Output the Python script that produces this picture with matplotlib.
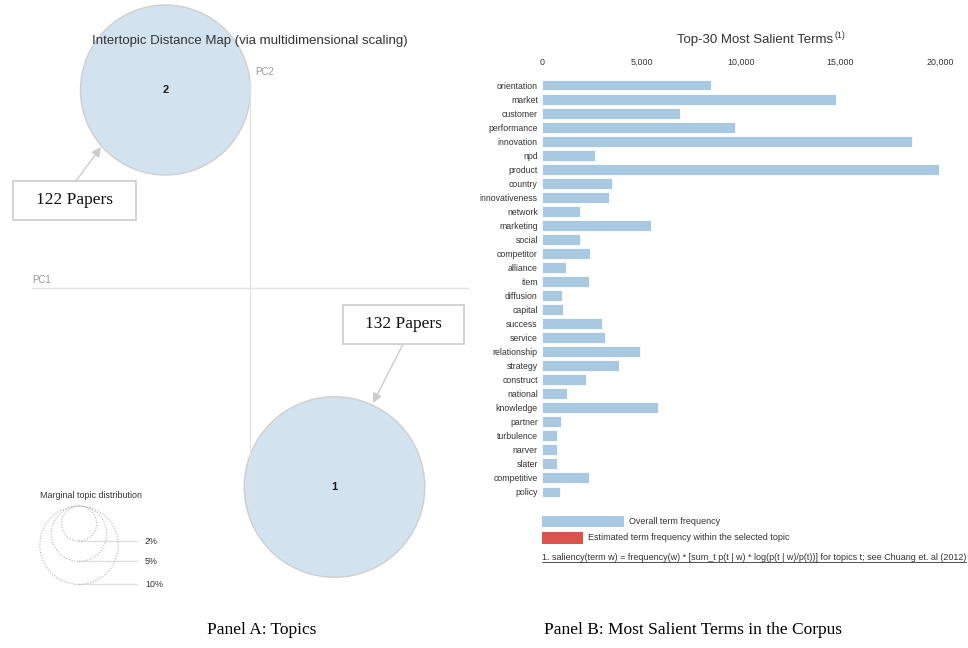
import matplotlib
matplotlib.use("Agg")
import numpy as np
import matplotlib.pyplot as plt
from matplotlib.patches import Circle, Rectangle

# top-30 salient terms and their overall corpus frequency
terms = ["orientation", "market", "customer", "performance", "innovation", "npd",
         "product", "country", "innovativeness", "network", "marketing", "social",
         "competitor", "alliance", "item", "diffusion", "capital", "success",
         "service", "relationship", "strategy", "construct", "national", "knowledge",
         "partner", "turbulence", "narver", "slater", "competitive", "policy"]
term_freq = [8500, 14770, 6930, 9680, 18590, 2680,
             19950, 3520, 3380, 1910, 5480, 1920,
             2400, 1210, 2350, 1020, 1070, 3030,
             3180, 4910, 3850, 2200, 1260, 5830,
             940, 770, 770, 770, 2350, 900]
x_ticks = [0, 5000, 10000, 15000, 20000]

# topics in PC space (multidimensional scaling)
topic_ids = [1, 2]
topic_pc1 = [0.0845, -0.0845]
topic_pc2 = [-0.199, 0.198]
topic_share = [0.53, 0.47]
paper_counts = [132, 122]

legend_shares = [0.02, 0.05, 0.10]
legend_labels = ["2%", "5%", "10%"]

W, H = 968, 648
SANS = ["Liberation Sans", "DejaVu Sans"]
SERIF = ["Liberation Serif", "DejaVu Serif"]
plt.rcParams["font.family"] = SANS

TXT = "#333333"
BAR = "#a9c9e3"
RED = "#d9534f"
TOPIC = "#d3e2ef"
RADIUS = 0.124   # circle radius per sqrt(share)

fig = plt.figure(figsize=(W / 100, H / 100), dpi=100)

# ---- left: intertopic distance map ----
ax_map = fig.add_axes([0, 0, 484 / W, 1])
ax_map.set_xlim(-0.250, 0.234)
ax_map.set_ylim(-0.360, 0.288)
ax_map.axis("off")

ax_map.plot([-0.218, 0.218], [0, 0], color="#e2e2e2", lw=1, zorder=3)
ax_map.plot([0, 0], [-0.219, 0.208], color="#e2e2e2", lw=1, zorder=3)
ax_map.text(-0.218, 0.003, "PC1", color="#999999", fontsize=7, ha="left", va="bottom")
ax_map.text(0.005, 0.216, "PC2", color="#999999", fontsize=7, ha="left", va="center")

for tid, x, y, s in zip(topic_ids, topic_pc1, topic_pc2, topic_share):
    ax_map.add_patch(Circle((x, y), RADIUS * np.sqrt(s), facecolor=TOPIC,
                            edgecolor="#cfcfcf", lw=1.0, zorder=2))
    ax_map.text(x, y, str(tid), ha="center", va="center", fontsize=8,
                fontweight="bold", color="#1a1a1a", zorder=4)

# marginal topic distribution legend
lx, ltop = -0.171, -0.218
ax_map.text(-0.210, -0.207, "Marginal topic distribution", fontsize=6.4,
            color=TXT, ha="left", va="center")
for s, lab in zip(legend_shares, legend_labels):
    r = RADIUS * np.sqrt(s)
    ax_map.add_patch(Circle((lx, ltop - r), r, fill=False, edgecolor="#b5b5b5",
                            lw=0.8, linestyle=(0, (1, 1.5)), zorder=2))
    ax_map.plot([lx, -0.113], [ltop - 2 * r] * 2, color="#dddddd", lw=0.9, zorder=1)
    ax_map.text(-0.105, ltop - 2 * r, lab, fontsize=6.4, color=TXT,
                ha="left", va="center")

# ---- right: salient terms bar chart ----
ax_bar = fig.add_axes([542 / W, 1 - 499 / H, 398 / W, 421 / H])
ypos = np.arange(len(terms))
ax_bar.barh(ypos, term_freq, height=0.78, color=BAR, edgecolor="white", lw=0.6)
ax_bar.set_xlim(0, 20000)
ax_bar.set_ylim(len(terms) - 0.5, -0.5)
ax_bar.set_yticks(ypos)
ax_bar.set_yticklabels(terms)
ax_bar.set_xticks(x_ticks)
ax_bar.set_xticklabels([f"{t:,}" for t in x_ticks])
ax_bar.xaxis.tick_top()
ax_bar.tick_params(axis="x", length=0, pad=8, labelsize=6.4, labelcolor=TXT)
ax_bar.tick_params(axis="y", length=0, pad=3, labelsize=6.3, labelcolor=TXT)
for sp in ax_bar.spines.values():
    sp.set_visible(False)

# ---- overlay in pixel coordinates: titles, callouts, captions, legend ----
ov = fig.add_axes([0, 0, 1, 1], zorder=5)
ov.set_xlim(0, W)
ov.set_ylim(H, 0)
ov.axis("off")

ov.text(250, 41, "Intertopic Distance Map (via multidimensional scaling)",
        ha="center", va="center", fontsize=9.5, color=TXT)
t_title = ov.text(755, 40, "Top-30 Most Salient Terms", ha="center", va="center",
                  fontsize=9.5, color=TXT)

boxes = [(343, 305, 121, 39), (13, 181, 123, 39)]
arrows = [((403, 344), (373, 403)), ((76, 181), (101, 147))]
for (bx, by, bw, bh), n, (start, tip) in zip(boxes, paper_counts, arrows):
    ov.add_patch(Rectangle((bx, by), bw, bh, facecolor="white",
                           edgecolor="#cccccc", lw=1.2))
    ov.text(bx + bw / 2, by + bh / 2, f"{n} Papers", ha="center", va="center",
            family=SERIF, fontsize=12.5, color="#111111")
    ov.annotate("", xy=tip, xytext=start,
                arrowprops=dict(arrowstyle="-|>", color="#cccccc", lw=1,
                                mutation_scale=14, shrinkA=0, shrinkB=0))

ov.text(262, 630, "Panel A: Topics", ha="center", va="center",
        family=SERIF, fontsize=12.5, color="black")
ov.text(693, 630, "Panel B: Most Salient Terms in the Corpus", ha="center",
        va="center", family=SERIF, fontsize=12.5, color="black")

ov.add_patch(Rectangle((542, 516), 82, 11, facecolor=BAR, edgecolor="none"))
ov.text(629, 521.5, "Overall term frequency", fontsize=6.5, color=TXT, va="center")
ov.add_patch(Rectangle((542, 532), 41, 12, facecolor=RED, edgecolor="none"))
ov.text(588, 538, "Estimated term frequency within the selected topic",
        fontsize=6.5, color=TXT, va="center")
note = ov.text(542, 557, "1. saliency(term w) = frequency(w) * [sum_t p(t | w) * "
               "log(p(t | w)/p(t))] for topics t; see Chuang et. al (2012)",
               fontsize=6.5, color=TXT, va="center")

# superscript and underline need the rendered text extents
fig.canvas.draw()
inv = ov.transData.inverted()
bb = t_title.get_window_extent()
x_end = inv.transform((bb.x1, bb.y1))[0]
ov.text(x_end + 1, 35, "(1)", fontsize=6.3, color=TXT, ha="left", va="center")
nb = note.get_window_extent()
(nx0, ny0), (nx1, _) = inv.transform([(nb.x0, nb.y0), (nb.x1, nb.y1)])
ov.plot([nx0, nx1], [ny0 + 0.5, ny0 + 0.5], color=TXT, lw=0.6)

fig.savefig("out.png", dpi=100, facecolor="white")
